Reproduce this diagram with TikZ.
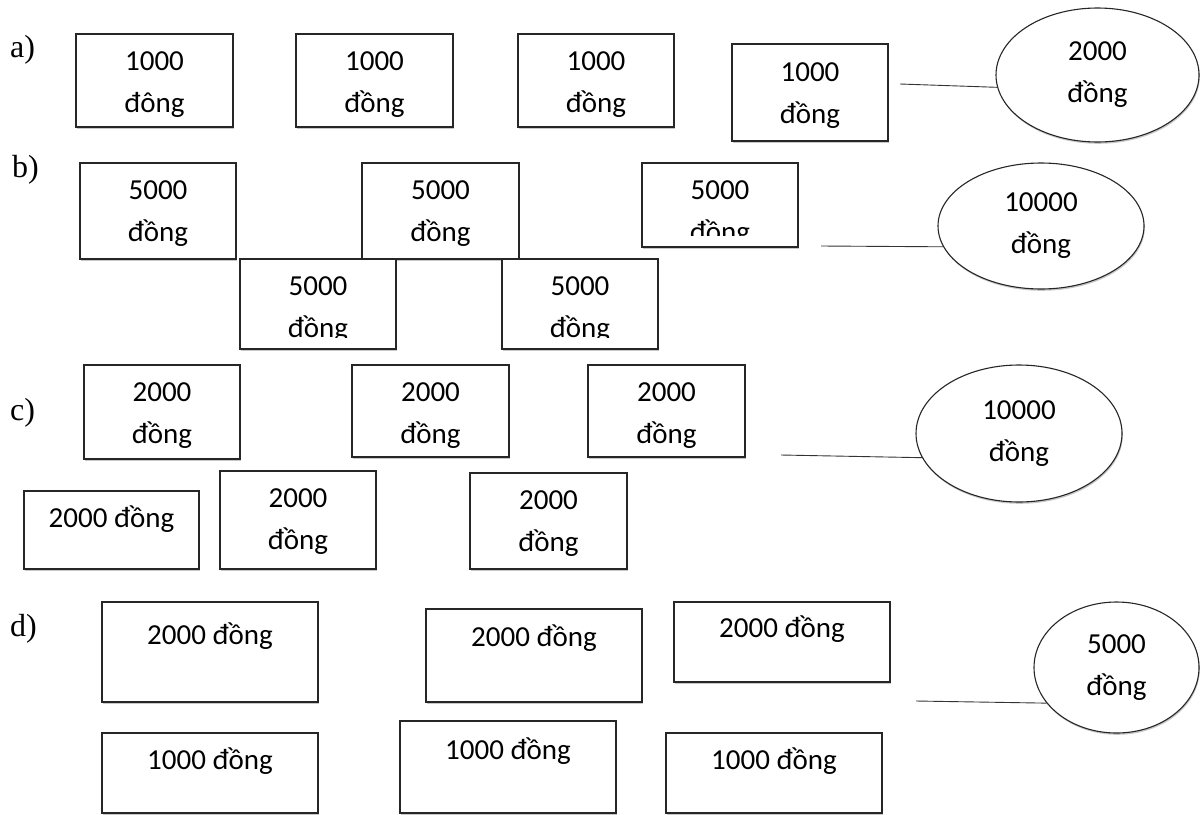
\documentclass[tikz,border=0pt]{standalone}
\usepackage{fontspec}
\setmainfont{Carlito}
\newfontfamily\labfont{Liberation Serif}
\usetikzlibrary{shapes.geometric,shadows}
% width, height, first-baseline offset, text
\newcommand\cardtxt[4]{\parbox[c][#2pt][t]{#1pt}{\centering\fontsize{29}{42}\selectfont\rule{0pt}{#3pt}#4\par}}
\tikzset{
  myshadow/.style={drop shadow={shadow xshift=0.8pt, shadow yshift=-1.8pt, opacity=0.22, fill=black}},
  card/.style={draw=black!85, line width=1.1pt, fill=white, inner sep=0pt, outer sep=0pt, myshadow},
  cardtext/.style={inner sep=0pt, outer sep=0pt},
  ell/.style={ellipse, draw=black!85, line width=1.1pt, fill=white, inner sep=0pt, align=center,
    font=\fontsize{29}{42}\selectfont, myshadow},
  conn/.style={draw=black!80, line width=0.9pt},
  lab/.style={font=\labfont\fontsize{32}{36}\selectfont, inner sep=0pt, anchor=base west}
}
\begin{document}
\begin{tikzpicture}[x=1pt, y=-1pt]
\useasboundingbox (0,0) rectangle (1201,814);

% ---------- a)
\node[lab] (laba) at (10,57) {a)};
\node[card] (a1) at (154.5,80.5) {\cardtxt{157}{93}{36}{1000\\đông}};
\node[card] (a2) at (374.5,80.5) {\cardtxt{157}{93}{36}{1000\\đồng}};
\node[card] (a3) at (596,80.5) {\cardtxt{156}{93}{36}{1000\\đồng}};
\node[card] (a4) at (810,92.5) {\cardtxt{156}{97}{37}{1000\\đồng}};
\node[ell, minimum width=203pt, minimum height=134pt] (ea) at (1097.5,75) {2000\\đồng};
\coordinate (pa) at (900,84);
\draw[conn] (pa) -- (ea.187);

% ---------- b)
\node[lab] (labb) at (12,177) {b)};
\node[card] (b1) at (158,211) {\cardtxt{156}{96}{36}{5000\\đồng}};
\node[card] (b2) at (440.5,211) {\cardtxt{157}{96}{36}{5000\\đồng}};
\node[card, minimum width=156pt, minimum height=84pt] (b5) at (720,205) {};
\begin{scope}
  \clip (b5.north west) rectangle ([yshift=12pt]b5.south east);
  \node[cardtext, anchor=north] (b5t) at (b5.north) {\cardtxt{156}{84}{36}{5000\\đồng}};
\end{scope}
\node[card, minimum width=156pt, minimum height=90pt] (b3) at (318,304) {};
\begin{scope}
  \clip (b3.north west) rectangle ([yshift=12pt]b3.south east);
  \node[cardtext, anchor=north] (b3t) at (b3.north) {\cardtxt{156}{90}{36}{5000\\đồng}};
\end{scope}
\node[card, minimum width=156pt, minimum height=90pt] (b4) at (580,304) {};
\begin{scope}
  \clip (b4.north west) rectangle ([yshift=12pt]b4.south east);
  \node[cardtext, anchor=north] (b4t) at (b4.north) {\cardtxt{156}{90}{36}{5000\\đồng}};
\end{scope}
\node[ell, minimum width=206pt, minimum height=126pt] (eb) at (1041,226) {10000\\đồng};
\coordinate (pb) at (821,246);
\draw[conn] (pb) -- (eb.192);

% ---------- c)
\node[lab] (labc) at (10,420) {c)};
\node[card] (c1) at (162,412) {\cardtxt{156}{94}{36}{2000\\đồng}};
\node[card] (c2) at (430.5,411) {\cardtxt{157}{92}{36}{2000\\đồng}};
\node[card] (c3) at (666.5,411) {\cardtxt{157}{92}{36}{2000\\đồng}};
\node[card] (c4) at (111.5,530) {\cardtxt{175}{78}{36}{2000 đồng}};
\node[card] (c5) at (298,520) {\cardtxt{156}{98}{36}{2000\\đồng}};
\node[card] (c6) at (548.5,521) {\cardtxt{157}{96}{36}{2000\\đồng}};
\node[ell, minimum width=206pt, minimum height=137pt] (ec) at (1019,433.5) {10000\\đồng};
\coordinate (pc) at (781,455);
\draw[conn] (pc) -- (ec.194);

% ---------- d)
\node[lab] (labd) at (10,636) {d)};
\node[card] (d1) at (210,652) {\cardtxt{216}{100}{42}{2000 đồng}};
\node[card] (d2) at (534,655.5) {\cardtxt{216}{93}{37}{2000 đồng}};
\node[card] (d3) at (782,642) {\cardtxt{216}{80}{35}{2000 đồng}};
\node[card] (d4) at (210,773) {\cardtxt{216}{80}{36}{1000 đồng}};
\node[card] (d5) at (508,767) {\cardtxt{216}{92}{38}{1000 đồng}};
\node[card] (d6) at (774,773) {\cardtxt{216}{80}{36}{1000 đồng}};
\node[ell, minimum width=165pt, minimum height=131pt] (ed) at (1116.5,667.5) {5000\\đồng};
\coordinate (pd) at (916,701);
\draw[conn] (pd) -- (ed.207);
\end{tikzpicture}
\end{document}
